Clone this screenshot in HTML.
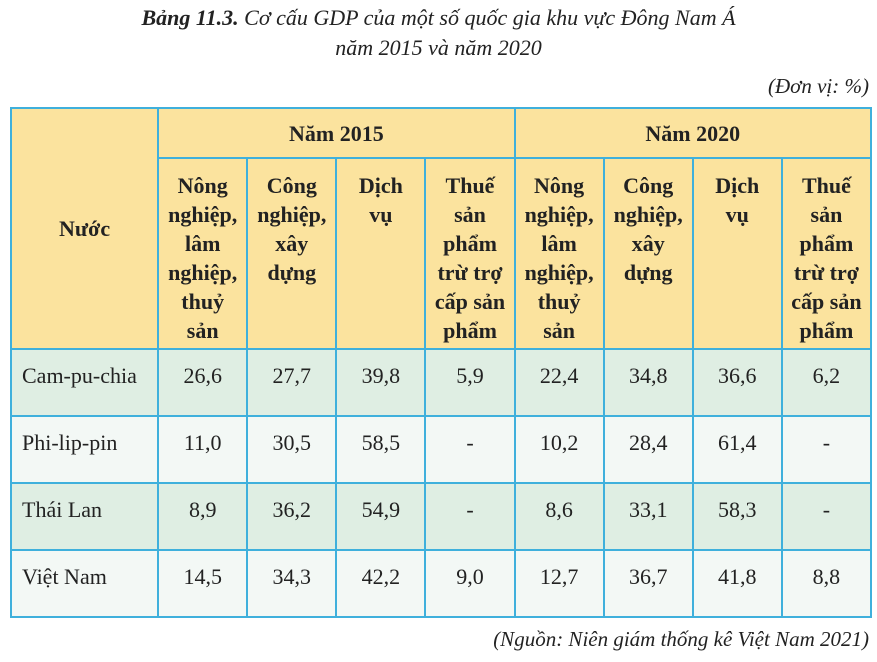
<!DOCTYPE html>
<html><head><meta charset="utf-8"><style>
body{margin:0;width:877px;height:662px;background:#fff;position:relative;overflow:hidden;font-family:"Liberation Serif",serif;color:#222;}
.t{position:absolute;left:0;width:877px;text-align:center;font-style:italic;font-size:22px;}
table{position:absolute;left:10px;top:107px;width:862px;height:511px;border-collapse:collapse;table-layout:fixed;}
td,th{border:2px solid #3fb0dc;padding:0;}
th{background:#fbe39e;font-weight:bold;font-size:22px;line-height:29px;vertical-align:top;white-space:nowrap;}
th.top{vertical-align:middle;height:48px;}
th.sub{padding-top:12px;}
th.c{vertical-align:middle;}
td{font-size:22px;text-align:center;vertical-align:top;padding-top:13px;height:52px;}
tr.g td{background:#dfeee3;}
tr.w td{background:#f3f8f5;}
td.n{text-align:left;padding-left:10px;}
</style></head><body>
<div class="t" style="top:5px"><b>Bảng 11.3.</b> Cơ cấu GDP của một số quốc gia khu vực Đông Nam Á</div>
<div class="t" style="top:35px">năm 2015 và năm 2020</div>
<div style="position:absolute;right:8px;top:74px;font-style:italic;font-size:21px">(Đơn vị: %)</div>
<table>
<colgroup><col style="width:147px"><col span="8" style="width:89px"></colgroup>
<tr><th rowspan="2" class="c">Nước</th><th colspan="4" class="top">Năm 2015</th><th colspan="4" class="top">Năm 2020</th></tr>
<tr>
<th class="sub">Nông<br>nghiệp,<br>lâm<br>nghiệp,<br>thuỷ<br>sản</th><th class="sub">Công<br>nghiệp,<br>xây<br>dựng</th><th class="sub">Dịch<br>vụ</th><th class="sub">Thuế<br>sản<br>phẩm<br>trừ trợ<br>cấp sản<br>phẩm</th>
<th class="sub">Nông<br>nghiệp,<br>lâm<br>nghiệp,<br>thuỷ<br>sản</th><th class="sub">Công<br>nghiệp,<br>xây<br>dựng</th><th class="sub">Dịch<br>vụ</th><th class="sub">Thuế<br>sản<br>phẩm<br>trừ trợ<br>cấp sản<br>phẩm</th></tr>
<tr class="g"><td class="n">Cam-pu-chia</td><td>26,6</td><td>27,7</td><td>39,8</td><td>5,9</td><td>22,4</td><td>34,8</td><td>36,6</td><td>6,2</td></tr>
<tr class="w"><td class="n">Phi-lip-pin</td><td>11,0</td><td>30,5</td><td>58,5</td><td>-</td><td>10,2</td><td>28,4</td><td>61,4</td><td>-</td></tr>
<tr class="g"><td class="n">Thái Lan</td><td>8,9</td><td>36,2</td><td>54,9</td><td>-</td><td>8,6</td><td>33,1</td><td>58,3</td><td>-</td></tr>
<tr class="w"><td class="n">Việt Nam</td><td>14,5</td><td>34,3</td><td>42,2</td><td>9,0</td><td>12,7</td><td>36,7</td><td>41,8</td><td>8,8</td></tr>
</table>
<div style="position:absolute;right:8px;top:627px;font-style:italic;font-size:21px">(Nguồn: Niên giám thống kê Việt Nam 2021)</div>
</body></html>
